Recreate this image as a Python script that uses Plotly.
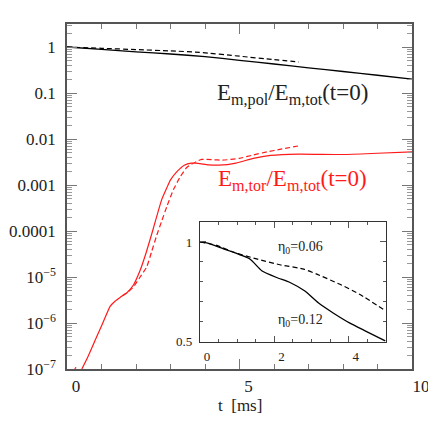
import plotly.graph_objects as go

# main panel: magnetic energy ratios vs time [ms]
t_pol = [0, 1, 2, 3, 4, 5, 6, 7, 8, 9, 10]
pol_eta012 = [1.0, 0.891, 0.787, 0.705, 0.618, 0.514, 0.427, 0.353, 0.293, 0.243, 0.201]
t_pol_d = [0, 1, 2, 3, 3.84, 5, 6, 6.72]
pol_eta006 = [1.0, 0.937, 0.878, 0.823, 0.767, 0.631, 0.532, 0.472]

t_tor = [0.43, 0.6, 0.86, 1.05, 1.25, 1.4, 1.54, 1.73, 1.92, 2.12, 2.3, 2.5, 2.74, 2.9, 3.0,
         3.2, 3.4, 3.6, 3.8, 4.1, 4.4, 4.9, 5.4, 5.9, 6.7, 8.0, 9.0, 10.0]
tor_eta012 = [1.0e-7, 1.8e-7, 5.0e-7, 1.05e-6, 2.3e-6, 3.0e-6, 3.6e-6, 4.5e-6, 6.6e-6, 1.4e-5,
              3.5e-5, 1.12e-4, 4.7e-4, 8.9e-4, 1.29e-3, 2.0e-3, 2.7e-3, 3.0e-3, 2.95e-3, 2.75e-3,
              2.7e-3, 3.0e-3, 3.8e-3, 4.4e-3, 4.7e-3, 4.6e-3, 4.9e-3, 5.25e-3]
t_tor_d = [0.2, 0.25, 0.3, None, 1.6, 1.73, 1.92, 2.1, 2.31, 2.45, 2.6, 2.74, 2.9, 3.08, 3.28,
           3.47, 3.6, 3.76, 3.9, 4.2, 4.5, 5.0, 5.4, 5.8, 6.2, 6.72]
tor_eta006 = [8.9e-8, 1.07e-7, 8.9e-8, None, 3.9e-6, 4.5e-6, 6.0e-6, 9.5e-6, 1.66e-5, 3.5e-5,
              8.0e-5, 1.6e-4, 3.5e-4, 7.8e-4, 1.5e-3, 2.4e-3, 2.8e-3, 3.24e-3, 3.6e-3, 3.55e-3,
              3.47e-3, 3.8e-3, 4.5e-3, 5.25e-3, 6.0e-3, 7.1e-3]

# inset: total magnetic energy (linear)
t_in = [0, 0.27, 0.63, 1.34, 1.66, 2.06, 2.42, 2.82, 3.18, 3.58, 4.03, 4.48, 4.98]
in_eta012 = [1.0, 0.991, 0.966, 0.915, 0.856, 0.822, 0.797, 0.754, 0.695, 0.644, 0.593, 0.551, 0.504]
t_in_d = [0, 0.45, 0.9, 1.52, 2.15, 2.79, 3.14, 3.76, 4.3, 4.98]
in_eta006 = [1.0, 0.983, 0.949, 0.915, 0.886, 0.864, 0.839, 0.788, 0.737, 0.656]

y_tickvals = [1e-7, 1e-6, 1e-5, 1e-4, 1e-3, 1e-2, 1e-1, 1]
y_ticktext = ["10<sup>−7</sup>", "10<sup>−6</sup>", "10<sup>−5</sup>", "0.0001", "0.001", "0.01", "0.1", "1"]

FONT = "Liberation Serif"
RED = "#ff1a1a"
INK = "#222222"

fig = go.Figure()
fig.add_trace(go.Scatter(x=t_pol, y=pol_eta012, mode="lines", line=dict(color="black", width=1.3, shape="spline", smoothing=0.5)))
fig.add_trace(go.Scatter(x=t_pol_d, y=pol_eta006, mode="lines", line=dict(color="black", width=1.2, dash="5px,3px", shape="spline", smoothing=0.5)))
fig.add_trace(go.Scatter(x=t_tor, y=tor_eta012, mode="lines", line=dict(color=RED, width=1.2, shape="spline", smoothing=0.5)))
fig.add_trace(go.Scatter(x=t_tor_d, y=tor_eta006, mode="lines", connectgaps=False,
                         line=dict(color=RED, width=1.2, dash="5px,3px", shape="spline", smoothing=0.5)))
fig.add_trace(go.Scatter(x=t_in, y=in_eta012, mode="lines", xaxis="x2", yaxis="y2",
                         line=dict(color="black", width=1.3, shape="spline", smoothing=0.5)))
fig.add_trace(go.Scatter(x=t_in_d, y=in_eta006, mode="lines", xaxis="x2", yaxis="y2",
                         line=dict(color="black", width=1.2, dash="5px,3px", shape="spline", smoothing=0.5)))

minor_log = [k * 10.0 ** e for e in range(-7, 1) for k in range(2, 10)]

# page body adds an 8px offset, so margins are trimmed on left/top
fig.update_layout(
    width=436, height=436,
    margin=dict(l=59, r=32, t=16, b=75, autoexpand=False),
    paper_bgcolor="white", plot_bgcolor="white",
    showlegend=False,
    font=dict(family=FONT, size=17, color=INK),
    xaxis=dict(range=[0, 10], automargin=False, showgrid=False, zeroline=False, showline=True, linecolor="#555",
               linewidth=1.5, mirror="allticks", ticks="inside", ticklen=10, tickcolor="#777", tickwidth=1,
               tickvals=[0, 5, 10], ticktext=["0", "5", "10"], ticklabelshift=9, ticklabelstandoff=1,
               tickfont=dict(color=INK),
               minor=dict(dtick=1, tick0=0, ticks="inside", ticklen=5, tickcolor="#777")),
    yaxis=dict(type="log", range=[-7, 0.5], automargin=False, showgrid=False, zeroline=False, showline=True,
               linecolor="#555", linewidth=1.5, mirror="allticks", ticks="inside", ticklen=10, tickcolor="#777",
               tickvals=y_tickvals, ticktext=y_ticktext, ticklabelstandoff=6, tickfont=dict(color=INK),
               minor=dict(tickmode="array", tickvals=minor_log, ticks="inside", ticklen=5, tickcolor="#999")),
    xaxis2=dict(domain=[0.3855, 0.9246], anchor="y2", range=[0, 5], automargin=False, showgrid=False,
                zeroline=False, showline=True, linecolor="#333", linewidth=1.2, mirror="allticks", ticks="inside",
                ticklen=6, tickcolor="#555", tickvals=[0, 2, 4], ticktext=["0", "2", "4"], ticklabelshift=7,
                ticklabelstandoff=3, tickfont=dict(size=13, color=INK),
                minor=dict(dtick=0.5, tick0=0, ticks="inside", ticklen=3, tickcolor="#555")),
    yaxis2=dict(domain=[0.079, 0.426], anchor="x2", range=[0.5, 1.1], automargin=False, showgrid=False,
                zeroline=False, showline=True, linecolor="#333", linewidth=1.2, mirror="allticks", ticks="inside",
                ticklen=6, tickcolor="#555", tickvals=[0.5, 1], ticktext=["0.5", "1"], ticklabelstandoff=4,
                tickfont=dict(size=13, color=INK),
                minor=dict(dtick=0.1, tick0=0.5, ticks="inside", ticklen=3, tickcolor="#555")),
)

fig.add_annotation(xref="paper", yref="paper", x=0.5, y=0, yshift=-36, xanchor="center", yanchor="middle",
                   showarrow=False, text="t\u2002[ms]", font=dict(size=17))
fig.add_annotation(xref="paper", yref="paper", x=0.655, y=0.797, xanchor="center", yanchor="middle",
                   showarrow=False, text="E<sub>m,pol</sub>/E<sub>m,tot</sub>(t=0)", font=dict(size=23, color=INK))
fig.add_annotation(xref="paper", yref="paper", x=0.655, y=0.548, xanchor="center", yanchor="middle",
                   showarrow=False, text="E<sub>m,tor</sub>/E<sub>m,tot</sub>(t=0)", font=dict(size=23, color=RED))
fig.add_annotation(xref="x2", yref="y2", x=2.69, y=0.971, xanchor="center", yanchor="middle", showarrow=False,
                   text="η<sub>0</sub>=0.06", font=dict(size=14))
fig.add_annotation(xref="x2", yref="y2", x=2.69, y=0.605, xanchor="center", yanchor="middle", showarrow=False,
                   text="η<sub>0</sub>=0.12", font=dict(size=14))

fig.write_html("out.html")
